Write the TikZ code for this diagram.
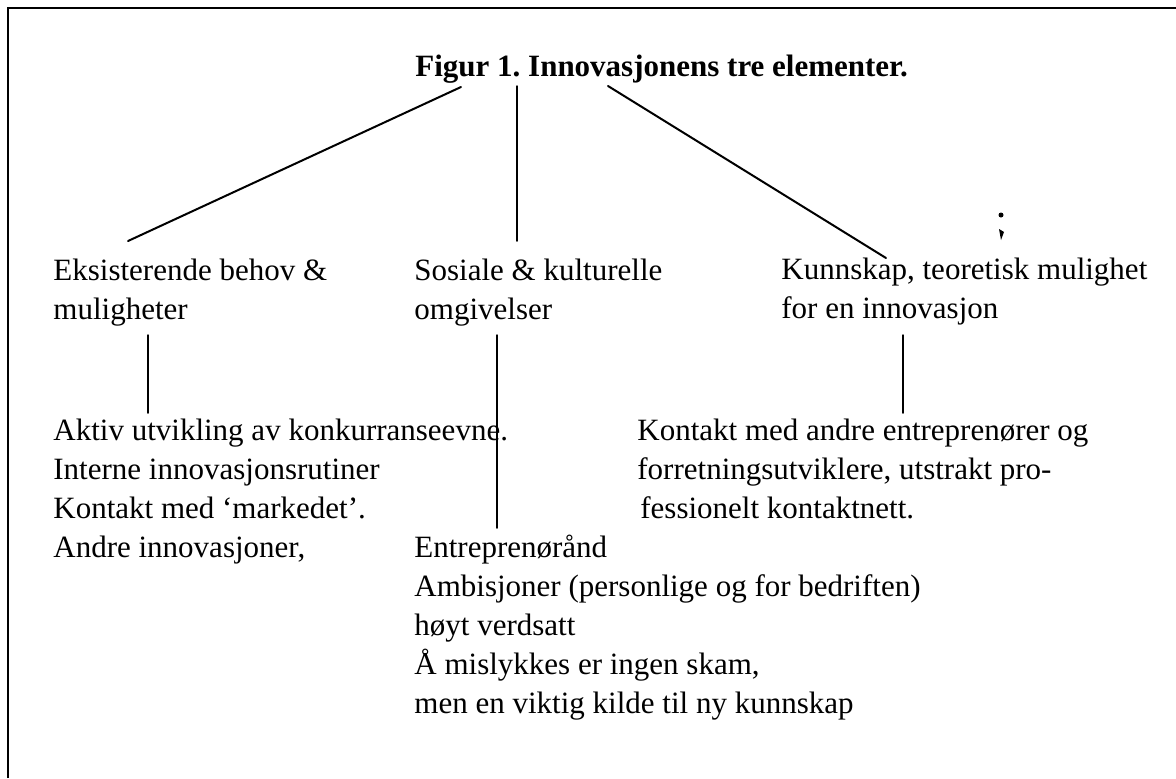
\documentclass[tikz,border=0pt]{standalone}
\usepackage{fontspec}
\setmainfont{Liberation Serif}
\usetikzlibrary{positioning}

\begin{document}
\begin{tikzpicture}[x=0.5pt,y=-0.5pt,line cap=round]
	\tikzstyle{txt}=[anchor=base west,inner sep=0pt,align=left,font=\fontsize{15.5pt}{19.5pt}\selectfont\frenchspacing]
	\tikzstyle{head}=[txt,font=\fontsize{15.5pt}{19.5pt}\selectfont\frenchspacing\bfseries]
	\tikzstyle{link}=[line width=1pt]
	\tikzstyle{stem}=[line width=0.75pt]

	\useasboundingbox (0,0) rectangle (1176,778);
	\draw[line width=1.3pt,line cap=butt] (8,778) -- (8,8) -- (1176,8);

	\node[head] (title) at (415,76) {Figur 1. Innovasjonens tre elementer.};

	% base = last line
	\node[txt] (behov) at (53,319) {Eksisterende behov \&\\muligheter};
	\node[txt] (sosial) at (414,319) {Sosiale \& kulturelle\\omgivelser};
	\node[txt] (kunn) at (781,318) {Kunnskap, teoretisk mulighet\\for en innovasjon};

	\node[txt] (aktiv) at (53,557) {Aktiv utvikling av konkurranseevne.\\Interne innovasjonsrutiner\\Kontakt med ‘markedet’.\\Andre innovasjoner,};
	\node[txt] (kontakt) at (637,518) {Kontakt med andre entreprenører og\\forretningsutviklere, utstrakt pro-\\\hspace{1.5pt}fessionelt kontaktnett.};
	\node[txt] (aand) at (414,713) {Entreprenørånd\\Ambisjoner (personlige og for bedriften)\\høyt verdsatt\\Å mislykkes er ingen skam,\\men en viktig kilde til ny kunnskap};

	% line ends
	\coordinate (t1) at (461,87);
	\coordinate (t2) at (517,86);
	\coordinate (t3) at (608,86);
	\coordinate (e1) at (128,241);
	\coordinate (e2) at (517,241);
	\coordinate (e3) at (886,258);
	\coordinate (s1) at (148,335);
	\coordinate (s2) at (497,335);
	\coordinate (s3) at (903,335);
	\coordinate (f1) at (148,413);
	\coordinate (f2) at (497,528);
	\coordinate (f3) at (903,413);

	\draw[link] (t1) -- (e1);
	\draw[stem] (t2) -- (e2);
	\draw[link] (t3) -- (e3);
	\draw[stem] (s1) -- (f1);
	\draw[stem] (s2) -- (f2);
	\draw[stem] (s3) -- (f3);

	% speck
	\fill (1001,215) circle (2.5);
	\fill (999,229) -- (1004,232) -- (1001,240) -- cycle;
\end{tikzpicture}
\end{document}
